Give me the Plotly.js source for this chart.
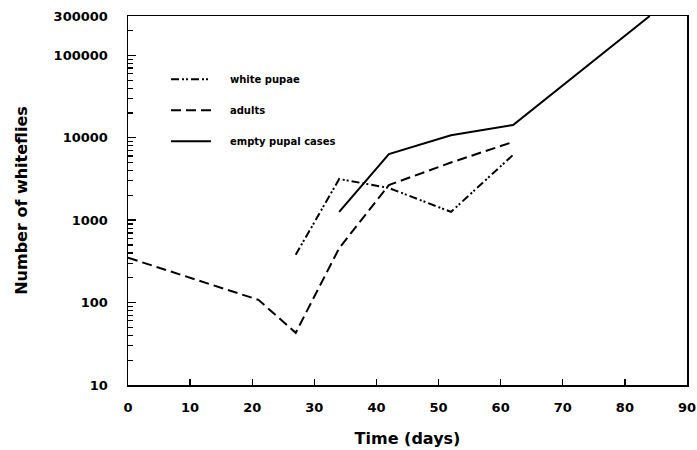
<!DOCTYPE html>
<html>
<head>
<meta charset="utf-8">
<script src="https://cdn.plot.ly/plotly-3.0.1.min.js"></script>
<style>html,body{margin:0;padding:0;background:#fff;}#chart{width:697px;height:450px;}</style>
</head>
<body>
<div id="chart"></div>
<script>
// Data
const pupaeDays = [27, 34, 42, 52, 62];
const pupaeCounts = [380, 3160, 2460, 1260, 6200];

const adultDays = [0, 21, 27, 34, 42, 52, 62];
const adultCounts = [350, 108, 43, 457, 2670, 5000, 8900];

const caseDays = [34, 42, 52, 62, 84];
const caseCounts = [1260, 6350, 10700, 14300, 300000];

const seriesNames = ["white pupae", "adults", "empty pupal cases"];

const xTicks = [0, 10, 20, 30, 40, 50, 60, 70, 80, 90];
const yTicks = [10, 100, 1000, 10000, 100000, 300000];
const yTickText = ["10", "100", "1000", "10000", "100000", "300000"];
const yMinor = [20,30,40,50,60,70,80,90,200,300,400,500,600,700,800,900,2000,3000,4000,5000,6000,7000,8000,9000,20000,30000,40000,50000,60000,70000,80000,90000,200000];

const pad = "\u00A0\u00A0\u00A0\u00A0";
const traces = [
  {x: pupaeDays, y: pupaeCounts, name: pad + seriesNames[0], mode: "lines", legendgroup: "a",
   line: {color: "#000", width: 2, dash: "8px,3px,2px,2px,2px,3px"}},
  {x: adultDays, y: adultCounts, name: pad + seriesNames[1], mode: "lines", legendgroup: "b",
   line: {color: "#000", width: 2, dash: "10px,5px"}},
  {x: caseDays, y: caseCounts, name: pad + seriesNames[2], mode: "lines", legendgroup: "c",
   line: {color: "#000", width: 2}},
  // empty helper trace so the minor-tick axis is drawn
  {x: [], y: [], yaxis: "y2", mode: "lines", showlegend: false, hoverinfo: "skip"}
];

const layout = {
  width: 697, height: 450,
  margin: {l: 128, r: 10, t: 16, b: 65},
  paper_bgcolor: "#fff", plot_bgcolor: "#fff",
  showlegend: true,
  legend: {x: 0.068, y: 0.868, xanchor: "left", yanchor: "top", bgcolor: "rgba(0,0,0,0)",
           font: {family: "DejaVu Sans", size: 10, color: "#000", weight: "bold"},
           tracegroupgap: 12, itemwidth: 40},
  xaxis: {
    range: [0, 90], tickmode: "array", tickvals: xTicks, ticktext: xTicks.map(String),
    ticks: "inside", ticklen: 6, tickwidth: 1.4, tickcolor: "#000",
    showline: true, linecolor: "#000", linewidth: 1.5, mirror: true,
    showgrid: false, zeroline: false, ticklabelstandoff: 10,
    tickfont: {family: "DejaVu Sans", size: 13, color: "#000", weight: "bold"},
    title: {text: "Time (days)", standoff: 18, font: {family: "DejaVu Sans", size: 16, color: "#000", weight: "bold"}}
  },
  yaxis: {
    type: "log", range: [1, Math.log10(300000)],
    tickmode: "array", tickvals: yTicks, ticktext: yTickText,
    ticks: "inside", ticklen: 8, tickwidth: 1.4, tickcolor: "#000",
    showline: true, linecolor: "#000", linewidth: 1.5, mirror: true,
    showgrid: false, zeroline: false, ticklabelstandoff: 16,
    tickfont: {family: "DejaVu Sans", size: 13, color: "#000", weight: "bold"},
    title: {text: "Number of whiteflies", standoff: 22, font: {family: "DejaVu Sans", size: 16, color: "#000", weight: "bold"}}
  },
  yaxis2: {
    type: "log", range: [1, Math.log10(300000)], overlaying: "y", side: "left", anchor: "x",
    tickmode: "array", tickvals: yMinor, showticklabels: false,
    ticks: "inside", ticklen: 5, tickwidth: 1.2, tickcolor: "#000",
    showline: false, showgrid: false, zeroline: false
  }
};

Plotly.newPlot("chart", traces, layout, {displayModeBar: false, staticPlot: true});
</script>
</body>
</html>
